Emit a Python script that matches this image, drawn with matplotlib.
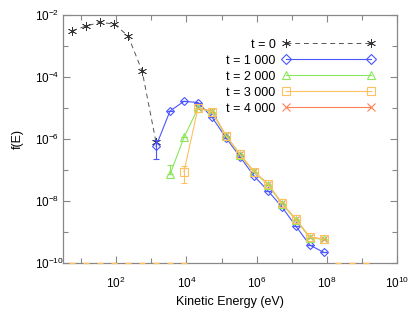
import matplotlib
matplotlib.use("Agg")
import matplotlib.pyplot as plt
from matplotlib.ticker import FixedLocator, FuncFormatter
from matplotlib.lines import Line2D
import math

plt.rcParams['font.family'] = ['Liberation Sans', 'DejaVu Sans']

# Energy grid (eV)
energy = [5.6, 14, 35, 88, 220, 550, 1370, 3420, 8540, 21400, 53400,
          1.33e5, 3.34e5, 8.34e5, 2.09e6, 5.21e6, 1.30e7, 3.26e7, 8.15e7]

# t = 0
e0 = energy[0:7]
f0 = [3.1e-3, 4.4e-3, 5.8e-3, 5.1e-3, 2.1e-3, 1.55e-4, 7.8e-7]

# t = 1000
e1 = energy[6:19]
f1 = [5.9e-7, 8.0e-6, 1.64e-5, 1.50e-5, 5.1e-6, 1.10e-6, 2.7e-7, 6.5e-8,
      2.15e-8, 6.5e-9, 1.56e-9, 3.8e-10, 2.2e-10]
err1 = [3.6e-7] + [0] * 12

# t = 2000
e2 = energy[7:19]
f2 = [7.2e-8, 1.13e-6, 9.8e-6, 7.6e-6, 1.25e-6, 3.1e-7, 8.6e-8,
      3.4e-8, 8.2e-9, 2.5e-9, 6.5e-10, 5.8e-10]
err2 = [7.2e-8] + [0] * 11

# t = 3000
e3 = energy[8:19]
f3 = [8.8e-8, 1.0e-5, 7.7e-6, 1.28e-6, 3.2e-7, 8.8e-8, 3.5e-8,
      8.4e-9, 2.57e-9, 6.7e-10, 5.9e-10]
err3 = [5.0e-8] + [0] * 10
# t = 3000 values below the plotted range (drawn on the axis)
e3_floor = [5.6, 14, 35, 88, 220, 550, 1370, 3420, 8540, 2.04e8, 5.1e8, 1.27e9]

# t = 4000
e4 = energy[9:19]
f4 = [1.0e-5, 7.9e-6, 1.3e-6, 3.2e-7, 9.0e-8, 3.5e-8, 8.5e-9,
      2.6e-9, 6.8e-10, 5.9e-10]

labels = ['t = 0', 't = 1 000', 't = 2 000', 't = 3 000', 't = 4 000']
colors = ['#555555', '#4a55ff', '#8ae85a', '#ffc060', '#ff8055']
markers = [(6, 2, 0), 'D', '^', 's', 'x']

fig = plt.figure(figsize=(4.15, 3.12), dpi=100)
ax = fig.add_axes([0.152, 0.157, 0.805, 0.795])
ax.set_xscale('log')
ax.set_yscale('log')

ms = 4.5
lw = 0.8
star = dict(marker=markers[0], ms=6.5, mec='#333333', mfc='#333333', mew=0.5)
ax.plot(e0, f0, linestyle=(0, (5, 4)), color=colors[0], lw=0.7, **star)
ax.errorbar(e1, f1, yerr=err1, color=colors[1], lw=lw, marker=markers[1], ms=ms,
            mfc='none', mec=colors[1], mew=0.8, capsize=2, elinewidth=0.8)
ax.errorbar(e2, f2, yerr=[[0] * len(err2), err2], color=colors[2], lw=lw,
            marker=markers[2], ms=ms + 1, mfc='none', mec=colors[2], mew=0.8,
            capsize=2, elinewidth=0.8)
ax.errorbar(e3, f3, yerr=err3, color=colors[3], lw=lw, marker=markers[3],
            ms=ms + 1, mfc='none', mec=colors[3], mew=0.8, capsize=2,
            elinewidth=0.8)
ax.plot(e4, f4, color=colors[4], lw=lw, marker=markers[4], ms=ms,
        mec=colors[4], mew=0.8)
ax.plot(e3_floor, [1e-10] * len(e3_floor), linestyle='none', marker='_',
        ms=4, mew=1.0, color=colors[3], clip_on=False, zorder=5)

ax.set_xlim(10 ** 0.49, 1e10)
ax.set_ylim(1e-10, 1e-2)

ax.xaxis.set_major_locator(FixedLocator([1e2, 1e4, 1e6, 1e8, 1e10]))
ax.xaxis.set_minor_locator(FixedLocator([1e1, 1e3, 1e5, 1e7, 1e9]))
ax.yaxis.set_major_locator(FixedLocator([1e-10, 1e-8, 1e-6, 1e-4, 1e-2]))
ax.yaxis.set_minor_locator(FixedLocator([1e-9, 1e-7, 1e-5, 1e-3]))


def fmt(v, pos):
    return r'$\mathregular{10^{%d}}$' % int(round(math.log10(v)))


ax.xaxis.set_major_formatter(FuncFormatter(fmt))
ax.yaxis.set_major_formatter(FuncFormatter(fmt))
ax.xaxis.set_minor_formatter(FuncFormatter(lambda v, p: ''))
ax.yaxis.set_minor_formatter(FuncFormatter(lambda v, p: ''))

ax.tick_params(which='both', direction='in', top=True, right=True,
               color='#888888', labelsize=8.5, width=0.8)
ax.tick_params(which='major', length=5)
ax.tick_params(axis='x', which='major', pad=9)
ax.tick_params(axis='y', which='major', pad=20)
ax.tick_params(which='minor', length=3.5)
for lbl in ax.get_yticklabels():
    lbl.set_horizontalalignment('left')
for s in ax.spines.values():
    s.set_color('#888888')
    s.set_linewidth(0.9)

ax.set_xlabel('Kinetic Energy (eV)', fontsize=9, labelpad=4)
ax.set_ylabel('f(E)', fontsize=9, labelpad=8)

handles = [Line2D([], [], linestyle=(0, (5, 4)), color=colors[0], lw=0.7, **star)]
for i in range(1, 5):
    handles.append(Line2D([], [], color=colors[i], lw=lw, marker=markers[i],
                          ms=ms + 1, mfc='none', mec=colors[i], mew=0.8))
leg = ax.legend(handles, labels, loc='upper right',
                bbox_to_anchor=(0.96, 0.94), numpoints=2,
                frameon=False, markerfirst=False, handlelength=7.4,
                fontsize=9, labelspacing=0.32, handletextpad=0.55,
                borderpad=0.2)

fig.savefig('out.png', dpi=100)
